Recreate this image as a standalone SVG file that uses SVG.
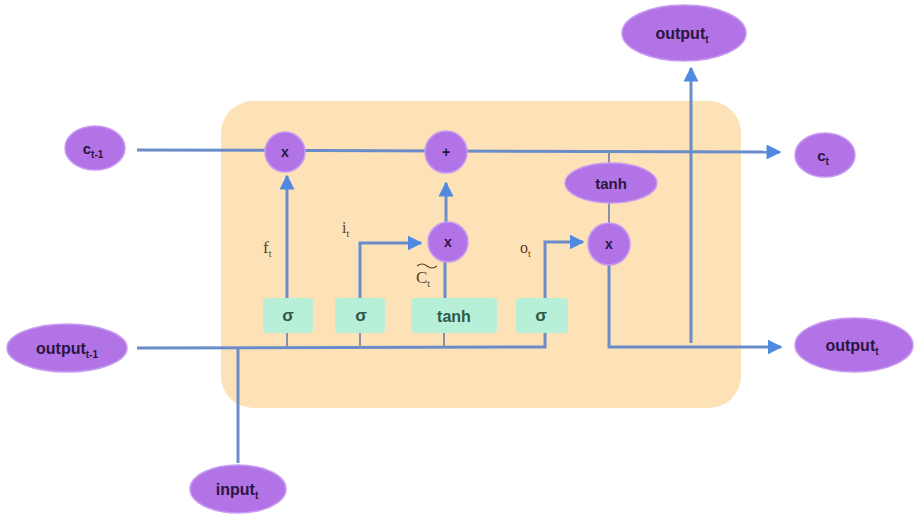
<svg xmlns="http://www.w3.org/2000/svg" width="917" height="519" viewBox="0 0 917 519">
  <defs>
    <marker id="arrow" viewBox="0 0 10 10" refX="9" refY="5" markerWidth="5" markerHeight="5" orient="auto" markerUnits="strokeWidth">
      <path d="M0,0 L10,5 L0,10 z" fill="#4f8ae0"/>
    </marker>
    <style>
      .cell { fill: #fde2b8; }
      .node { fill: #b273e6; stroke: #c79bf0; stroke-width: 1.5; }
      .gate { fill: #b8efd9; }
      .wire { fill: none; stroke: #6a8cc8; stroke-width: 3; }
      .stub { fill: none; stroke: #8a8fa8; stroke-width: 2; }
      .lbl { font-family: "Liberation Sans", Arial, sans-serif; font-weight: bold; fill: #2a1640; text-anchor: middle; }
      .glbl { font-family: "Liberation Sans", Arial, sans-serif; font-weight: bold; fill: #2f5a48; text-anchor: middle; }
      .var { font-family: "Liberation Serif", "Times New Roman", serif; fill: #5a4020; }
    </style>
  </defs>

  <!-- cell body -->
  <rect class="cell" x="221" y="101" width="520" height="307" rx="32"/>

  <!-- connectors -->
  <g id="connectors">
    <!-- cell state line -->
    <path class="wire" d="M137,150 L780,152" marker-end="url(#arrow)"/>
    <!-- previous output / input bus -->
    <path class="wire" d="M137,348 L545,347 L545,333"/>
    <path class="wire" d="M238,348 L238,463"/>
    <!-- stubs from gates to bus -->
    <path class="stub" d="M287,333 V347 M360,333 V347 M444,333 V347"/>
    <!-- forget gate -->
    <path class="wire" d="M287,298 L287,176" marker-end="url(#arrow)"/>
    <!-- input gate -->
    <path class="wire" d="M360,298 L360,243 L421,243" marker-end="url(#arrow)"/>
    <!-- candidate -->
    <path class="wire" d="M445,298 L445,262"/>
    <path class="wire" d="M446,222 L446,183" marker-end="url(#arrow)"/>
    <!-- output gate -->
    <path class="wire" d="M545,298 L545,242 L583,242" marker-end="url(#arrow)"/>
    <!-- tanh of cell state -->
    <path class="stub" d="M609,152 V163 M609,203 V223"/>
    <!-- output path -->
    <path class="wire" d="M609,265 L609,347 L781,347" marker-end="url(#arrow)"/>
    <path class="wire" d="M691,343 L691,68" marker-end="url(#arrow)"/>
  </g>

  <!-- outer nodes -->
  <g id="c-prev"><ellipse class="node" cx="95" cy="148" rx="30" ry="22"/>
    <text class="lbl" x="93" y="154" font-size="15">c<tspan font-size="10" dy="4">t-1</tspan></text></g>
  <g id="c-next"><ellipse class="node" cx="825" cy="155" rx="30" ry="22"/>
    <text class="lbl" x="823" y="161" font-size="15">c<tspan font-size="10" dy="4">t</tspan></text></g>
  <g id="out-top"><ellipse class="node" cx="684" cy="33" rx="62" ry="28"/>
    <text class="lbl" x="682" y="39" font-size="16">output<tspan font-size="10" dy="4">t</tspan></text></g>
  <g id="out-right"><ellipse class="node" cx="854" cy="345" rx="59" ry="27"/>
    <text class="lbl" x="852" y="351" font-size="16">output<tspan font-size="10" dy="4">t</tspan></text></g>
  <g id="out-prev"><ellipse class="node" cx="67" cy="348" rx="60" ry="24"/>
    <text class="lbl" x="67" y="354" font-size="16">output<tspan font-size="10" dy="4">t-1</tspan></text></g>
  <g id="input"><ellipse class="node" cx="238" cy="489" rx="48" ry="24"/>
    <text class="lbl" x="237" y="495" font-size="16">input<tspan font-size="10" dy="4">t</tspan></text></g>

  <!-- pointwise operations -->
  <g id="mul-forget"><circle class="node" cx="285" cy="152" r="20"/>
    <text class="lbl" x="285" y="157" font-size="14">x</text></g>
  <g id="add-cell"><circle class="node" cx="446" cy="152" r="21"/>
    <text class="lbl" x="446" y="157" font-size="14">+</text></g>
  <g id="mul-input"><circle class="node" cx="448" cy="242" r="20"/>
    <text class="lbl" x="448" y="247" font-size="14">x</text></g>
  <g id="mul-output"><circle class="node" cx="609" cy="244" r="21"/>
    <text class="lbl" x="609" y="249" font-size="14">x</text></g>
  <g id="tanh-cell"><ellipse class="node" cx="611" cy="183" rx="46" ry="20"/>
    <text class="lbl" x="611" y="189" font-size="15">tanh</text></g>

  <!-- gate layers -->
  <g id="gate-f"><rect class="gate" x="263" y="298" width="50" height="35" rx="4"/>
    <text class="glbl" x="288" y="321" font-size="17">σ</text></g>
  <g id="gate-i"><rect class="gate" x="335" y="298" width="50" height="35" rx="4"/>
    <text class="glbl" x="361" y="321" font-size="17">σ</text></g>
  <g id="gate-c"><rect class="gate" x="411" y="298" width="86" height="35" rx="4"/>
    <text class="glbl" x="454" y="322" font-size="16">tanh</text></g>
  <g id="gate-o"><rect class="gate" x="516" y="298" width="52" height="35" rx="4"/>
    <text class="glbl" x="541" y="321" font-size="17">σ</text></g>

  <!-- gate signal labels -->
  <g id="labels">
    <text class="var" x="263" y="253" font-size="17">f<tspan font-size="10" dy="4">t</tspan></text>
    <text class="var" x="342" y="233" font-size="16">i<tspan font-size="10" dy="4">t</tspan></text>
    <text class="var" x="416" y="283" font-size="17">C<tspan font-size="10" dy="4">t</tspan></text>
    <path d="M417,266 q5,-4 10,0 t10,0" fill="none" stroke="#5a4020" stroke-width="1.2"/>
    <text class="var" x="520" y="253" font-size="16">o<tspan font-size="10" dy="4">t</tspan></text>
  </g>
</svg>
